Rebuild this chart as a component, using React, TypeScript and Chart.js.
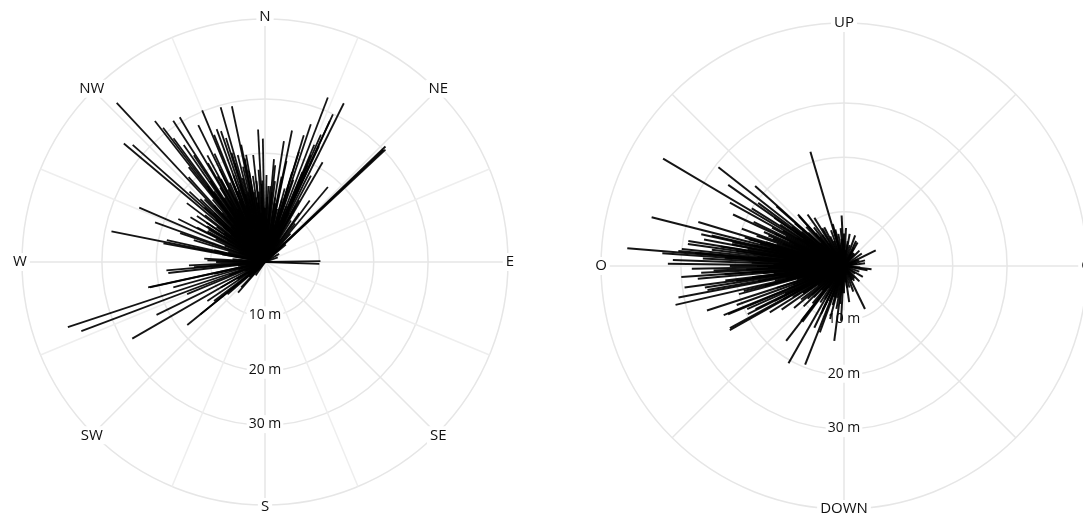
import { useEffect, useRef } from 'react';
import { Chart, registerables } from 'chart.js';

Chart.register(...registerables);

// Direction labels, listed clockwise starting at the top of each rose
const leftDirections = ['N', '', 'NE', '', 'E', '', 'SE', '', 'S', '', 'SW', '', 'W', '', 'NW', ''];
const rightDirections = ['UP', '', 'O', '', 'DOWN', '', 'O', ''];

// Radial distance scale (metres)
const rangeTicks = [0, 10, 20, 30, 44.7];
const labelledTicks = [10, 20, 30];
const rangeMax = 44.7;

// Left rose: azimuth (deg clockwise from N) and length (m) of each vector
const leftAzimuth = [
  317, 310, 311.5, 322, 322.8, 323.5, 325.2, 326.3, 321.2, 329.5, 327, 331.6, 334, 337.5, 338.2, 340,
  341.4, 342.5, 344, 345.7, 348, 348.5, 348.9, 353.7, 357, 359, 357.5, 2.5, 5.6, 6, 8.9, 11.6,
  15.1, 16.8, 17, 17.1, 17.3, 18.4, 20.9, 22.5, 22.6, 22.8, 23.2, 23.7, 23.7, 24.7, 24.7, 25,
  26.4, 28.6, 30, 46.2, 47, 46.6, 89, 92,
  281.3, 293.4, 289.8, 296.4, 280.4, 288.8, 282.6, 287, 283.1, 273.2, 271.7, 304, 301.7, 305.3, 314.2,
  317.7, 322.9, 326, 331, 332, 338, 339, 346.3, 349.7, 356,
  251.7, 249.4, 240, 257.7, 257.6, 231, 244, 263.5, 265.1, 265.9, 267.5, 256.9, 254.5, 247.6, 240,
  235.9, 231, 232.6, 229.2, 223, 221.4, 235,
  300, 305, 310, 315, 318, 320, 324, 328, 330, 333, 336, 339, 342, 345, 350, 352, 354, 358, 0, 3,
  8, 10, 12, 14, 20, 27, 33, 36, 38, 40, 42, 50, 60, 70, 285, 290, 295, 298, 275, 262, 250, 245,
  238, 226, 215,
  300, 302, 304, 306, 308, 309, 311, 312, 313, 314, 316, 316, 318, 319, 320, 321, 322, 323, 324, 325,
  326, 327, 328, 329, 330, 331, 332, 333, 334, 335, 336, 337, 338, 339, 340, 341, 342, 343, 344, 345,
  346, 347, 348, 349, 350, 351, 352, 353, 354, 355, 356, 357, 358, 359, 1, 2, 4, 5, 7, 9,
  11, 13, 15, 18, 19, 21, 24, 26, 29, 32, 35, 300, 310, 320, 340, 355, 10, 25, 45, 265,
  255, 280, 270, 292, 297, 301, 307, 313, 318, 330, 335, 343, 350, 5, 12, 28,
];
const leftLength = [
  40.0, 33.9, 32.5, 32.9, 31.0, 28.3, 26.2, 23.6, 22.4, 30.9, 31.0, 22.3, 28.0, 30.2, 25.2, 26.0,
  25.4, 23.9, 29.6, 20.3, 29.3, 22.0, 19.4, 19.8, 24.4, 22.7, 14.4, 14.0, 12.9, 17.9, 22.5, 24.7,
  12.0, 17.3, 24.4, 21.2, 14.7, 26.7, 32.4, 9.8, 17.9, 23.4, 21.4, 19.4, 25.6, 29.9, 28.5, 23.5,
  32.6, 11.7, 21.2, 30.7, 30.3, 30.0, 10.2, 10.0,
  28.8, 25.2, 21.5, 17.8, 19.0, 16.5, 18.5, 13.7, 9.6, 11.2, 10.6, 15.1, 12.5, 9.2, 16.6,
  13.9, 17.6, 12.4, 10.3, 17.3, 15.1, 12.4, 13.2, 10.4, 9.1,
  38.2, 36.1, 28.2, 22.0, 21.7, 18.4, 22.2, 17.9, 18.2, 13.1, 14.0, 9.6, 17.5, 15.5, 9.4,
  12.8, 15.3, 11.8, 9.1, 6.4, 7.5, 3.8,
  8, 6, 10, 7, 11, 9, 8, 14, 6, 11, 9, 7, 11, 8, 6, 12, 9, 7, 10, 8,
  6, 11, 9, 7, 8, 6, 5, 14, 9, 18, 7, 5, 3, 2.5, 7, 5, 10, 12, 6, 5, 7, 4,
  6, 4, 3,
  12, 9, 13, 11, 14, 8, 12, 15, 10, 13, 9, 16, 14, 12, 15, 11, 17, 13, 16, 10,
  18, 14, 12, 16, 13, 18, 11, 15, 19, 13, 16, 12, 18, 14, 17, 11, 15, 19, 13, 16,
  12, 18, 14, 11, 17, 13, 16, 11, 15, 13, 17, 12, 15, 10, 16, 12, 14, 10, 15, 12,
  16, 10, 14, 12, 16, 11, 14, 10, 13, 9, 11, 5, 4, 6, 5, 4, 5, 4, 5, 6,
  5, 8, 9, 8, 14, 16, 18, 19, 21, 21, 22, 21, 20, 19, 19, 18,
];

// Right rose: azimuth (deg clockwise from UP) and length (m) of each vector
const rightAzimuth = [
  300.7, 308.2, 306.3, 304.7, 318.2, 328.4, 343.6, 344.5, 8.4, 28.6, 64, 145.5, 166, 284.2, 274.7,
  270.7, 282.5, 279.1, 275.2, 267.3, 261.2, 257, 259.2, 262.3, 266.1, 247.4, 243.4, 243.3, 218, 205.7,
  205.5, 183.1, 240.7, 241.4, 247.8, 209.7, 201.5, 217.7, 216.7, 196.2, 187.4, 194.7, 200, 154, 171.8,
  63.9, 100.3, 96.8, 82.6, 357.3, 346.6, 25.9, 324.7, 317.9, 311.5, 294.9, 285.6, 280.7, 286.8, 244,
  238, 241.3, 274, 272, 276, 275, 278, 273, 277, 279, 281, 283, 269, 268, 265, 263, 260, 255, 252,
  250, 246, 235, 230, 225, 220, 290, 292, 296, 299, 302, 305, 312,
  270, 272, 275, 280, 285, 288, 293, 297, 303, 308, 314, 320, 326, 333, 338, 350, 355, 0, 5, 15, 20,
  35, 45, 70, 80, 110, 125, 135, 150, 175, 185, 190, 198, 210, 215, 222, 228, 233, 237, 248, 253, 258,
  262, 266,
  250, 252, 254, 256, 258, 260, 261, 263, 264, 265, 267, 268, 269, 270, 271, 272, 273, 274, 275, 276,
  277, 278, 279, 280, 281, 282, 283, 284, 285, 286, 287, 288, 289, 290, 291, 293, 294, 295, 297, 298,
  300, 301, 303, 305, 307, 309, 311, 313, 316, 319, 322, 325, 330, 335, 340, 345, 350, 355, 358, 245,
  242, 239, 236, 232, 228, 224, 219, 213, 206, 202, 192, 186, 180, 172, 160, 140, 120, 95, 75, 55,
  40, 30, 10, 3, 262, 266, 270, 274, 278, 282, 286, 256,
];
const rightLength = [
  38.7, 29.4, 19.6, 15.6, 12.7, 10.4, 21.9, 6.7, 4.6, 3.8, 2.8, 3.3, 4.1, 36.5, 40.0,
  32.4, 26.9, 29.0, 30.6, 26.3, 25.9, 31.8, 31.0, 29.6, 30.0, 23.1, 19.8, 14.3, 12.8, 12.6,
  9.8, 10.1, 24.1, 23.9, 23.9, 20.6, 19.5, 17.4, 12.8, 7.5, 13.9, 10.1, 13.0, 8.8, 6.7,
  6.5, 4.4, 5.1, 3.9, 9.3, 6.9, 5.1, 11.6, 12.3, 16.6, 22.5, 18.2, 26.2, 28.0, 18.1,
  16.1, 12.7, 33.5, 31.5, 30.0, 27.5, 29.0, 26.0, 24.5, 23.0, 21.0, 25.0, 28.0, 24.0, 27.0, 22.0, 25.5, 20.0, 26.5,
  21.0, 19.5, 14.0, 12.0, 10.5, 9.0, 20.0, 15.0, 18.5, 24.0, 20.0, 26.0, 22.0,
  12, 9, 15, 11, 13, 8, 10, 7, 9, 8, 6, 7, 5, 8, 5, 4, 5, 6, 3, 4, 6,
  3, 4, 3, 2.5, 3, 2.5, 4, 3, 3, 5, 8, 6, 7, 5, 6, 8, 6, 9, 11, 8, 13,
  10, 17,
  10, 13, 9, 15, 11, 16, 12, 17, 13, 15, 11, 18, 14, 16, 13, 17, 12, 18, 14, 16,
  11, 17, 13, 18, 15, 12, 17, 14, 16, 11, 15, 13, 17, 12, 14, 16, 11, 14, 12, 15,
  13, 10, 14, 11, 12, 10, 12, 9, 10, 8, 9, 7, 8, 6, 7, 8, 6, 7, 5, 12,
  10, 11, 9, 10, 9, 8, 7, 8, 9, 7, 6, 7, 5, 4, 5, 3, 4, 3, 4, 4,
  3, 5, 6, 7, 20, 22, 21, 22, 20, 21, 19, 19,
];

const FONT_FAMILY = '"Open Sans", "Noto Sans", sans-serif';
const GRID_MAIN = '#e6e6e6';
const GRID_MINOR = '#eeeeee';

function makeRosePlugin(
  azimuth: number[],
  length: number[],
  directions: string[],
  lineWidth: number,
  labelGap: number
) {
  return {
    id: 'rose',
    beforeDatasetsDraw(chart: any) {
      // distance labels along the downward axis, over the grid but under the vectors
      const scale = chart.scales.r;
      const ctx = chart.ctx;
      const bottom = directions.length / 2;
      ctx.save();
      ctx.font = `500 14px ${FONT_FAMILY}`;
      ctx.textAlign = 'center';
      ctx.textBaseline = 'middle';
      scale.ticks.forEach((t: any) => {
        if (!labelledTicks.includes(t.value)) return;
        const text = `${t.value} m`;
        const p = scale.getPointPosition(bottom, scale.getDistanceFromCenterForValue(t.value) - 1);
        const w = ctx.measureText(text).width;
        ctx.fillStyle = '#ffffff';
        ctx.fillRect(p.x - w / 2 - 2, p.y - 9, w + 4, 18);
        ctx.fillStyle = '#111111';
        ctx.fillText(text, p.x, p.y);
      });
      ctx.restore();
    },
    afterDatasetsDraw(chart: any) {
      const scale = chart.scales.r;
      const ctx = chart.ctx;
      const baseAngle = scale.getIndexAngle(0);
      ctx.save();
      ctx.strokeStyle = 'rgba(0,0,0,0.92)';
      ctx.lineWidth = lineWidth;
      ctx.lineCap = 'butt';
      for (let i = 0; i < azimuth.length; i++) {
        const extra = (azimuth[i] * Math.PI) / 180 - baseAngle;
        const end = scale.getPointPosition(0, scale.getDistanceFromCenterForValue(length[i]), extra);
        ctx.beginPath();
        ctx.moveTo(scale.xCenter, scale.yCenter);
        ctx.lineTo(end.x, end.y);
        ctx.stroke();
      }
      ctx.restore();
    },
    afterDraw(chart: any) {
      const scale = chart.scales.r;
      const ctx = chart.ctx;
      ctx.save();
      ctx.font = `500 15px ${FONT_FAMILY}`;
      ctx.textAlign = 'center';
      ctx.textBaseline = 'middle';
      directions.forEach((label, i) => {
        if (!label) return;
        const p = scale.getPointPosition(i, scale.drawingArea + labelGap);
        const w = ctx.measureText(label).width;
        ctx.fillStyle = '#ffffff';
        ctx.fillRect(p.x - w / 2 - 3, p.y - 9, w + 6, 18);
        ctx.fillStyle = '#111111';
        ctx.fillText(label, p.x, p.y);
      });
      ctx.restore();
    },
  };
}

function radialScale(minorColor: string) {
  return {
    type: 'radialLinear',
    min: 0,
    max: rangeMax,
    startAngle: 0,
    afterBuildTicks: (scale: any) => {
      scale.ticks = rangeTicks.map((v) => ({ value: v }));
    },
    grid: { circular: true, color: GRID_MAIN, lineWidth: 1.5 },
    angleLines: {
      display: true,
      color: (c: any) => (c.index % 2 === 0 ? GRID_MAIN : minorColor),
      lineWidth: 1.5,
    },
    pointLabels: { display: false },
    ticks: { display: false },
  };
}

function makeConfig(
  directions: string[],
  azimuth: number[],
  length: number[],
  padding: { left: number; top: number; right: number; bottom: number },
  lineWidth: number,
  labelGap: number,
  minorColor: string
): any {
  return {
    type: 'polarArea',
    data: { labels: directions, datasets: [] },
    options: {
      responsive: false,
      animation: false,
      devicePixelRatio: 1,
      layout: { padding },
      plugins: { legend: { display: false }, tooltip: { enabled: false }, title: { display: false } },
      scales: { r: radialScale(minorColor) },
    },
    plugins: [makeRosePlugin(azimuth, length, directions, lineWidth, labelGap)],
  };
}

export default function App() {
  const leftRef = useRef<HTMLCanvasElement>(null);
  const rightRef = useRef<HTMLCanvasElement>(null);

  useEffect(() => {
    const left = new Chart(
      leftRef.current as HTMLCanvasElement,
      makeConfig(leftDirections, leftAzimuth, leftLength, { left: 22, top: 19, right: 22, bottom: 11 }, 1.8, 2, GRID_MINOR)
    );
    const right = new Chart(
      rightRef.current as HTMLCanvasElement,
      makeConfig(rightDirections, rightAzimuth, rightLength, { left: 61, top: 23, right: 13, bottom: 21 }, 2.0, 0, GRID_MAIN)
    );
    return () => {
      left.destroy();
      right.destroy();
    };
  }, []);

  return (
    <div
      style={{
        position: 'fixed',
        left: 0,
        top: 0,
        width: 1083,
        height: 516,
        overflow: 'hidden',
        background: '#ffffff',
      }}
    >
      <canvas
        ref={leftRef}
        width={530}
        height={516}
        style={{ position: 'absolute', left: 0, top: 0, width: 530, height: 516 }}
      />
      <canvas
        ref={rightRef}
        width={560}
        height={530}
        style={{ position: 'absolute', left: 540, top: 0, width: 560, height: 530 }}
      />
    </div>
  );
}
